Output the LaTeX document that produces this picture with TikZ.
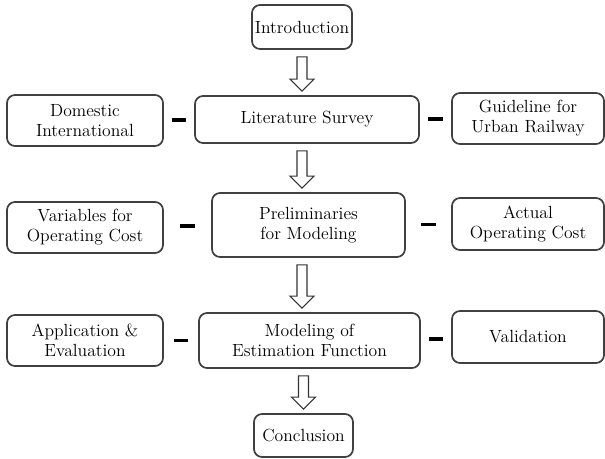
\documentclass[tikz,border=0pt]{standalone}
\usepackage{fontspec}
\usepackage{tikz}
\usetikzlibrary{calc}

\tikzset{
	box/.style={draw=black!75, line width=1.3pt, rounded corners=6pt, align=center, inner sep=2pt, font=\fontsize{13.2}{15}\selectfont},
	sidebox/.style={box, minimum width=117pt, minimum height=38.25pt},
	bar/.style={line width=2.8pt, line cap=butt, to path={($(\tikztostart)!.5!(\tikztotarget)$) ++(-5.6pt,0) -- ++(11.2pt,0)}},
	hollow/.style={draw=black!80, line width=0.9pt, line join=miter, to path={let \p1=(\tikztostart), \p2=(\tikztotarget) in
		(\x1-3.75pt,\y1-5.25pt) -- (\x1-3.75pt,\y2+12pt) -- (\x1-9pt,\y2+12pt) -- (\x1,\y2+3pt)
		-- (\x1+9pt,\y2+12pt) -- (\x1+3.75pt,\y2+12pt) -- (\x1+3.75pt,\y1-5.25pt) -- cycle}}
}

\begin{document}
\begin{tikzpicture}[x=0.75pt,y=-0.75pt]
	\useasboundingbox (0,0) rectangle (605,459);
	
	%MAIN COLUMN
	\node[box, minimum width=75pt, minimum height=33pt] (intro) at (302,27) {Introduction};
	\node[box, minimum width=168pt, minimum height=35.25pt] (lit) at (307,119.5) {Literature Survey};
	\node[box, minimum width=144.75pt, minimum height=48pt] (prelim) at (308.5,225) {Preliminaries\\for Modeling};
	\node[box, minimum width=165.75pt, minimum height=41.25pt] (model) at (309.5,340.5) {Modeling of\\Estimation Function};
	\node[box, minimum width=74.25pt, minimum height=32.25pt] (concl) at (303.5,435.5) {Conclusion};
	
	%LEFT COLUMN
	\node[sidebox] (dom) at (85,120.5) {Domestic\\International};
	\node[sidebox] (var) at (85,227.5) {Variables for\\Operating Cost};
	\node[sidebox] (app) at (85,340.5) {Application \&\\Evaluation};
	
	%RIGHT COLUMN
	\node[sidebox, minimum width=114pt] (guide) at (528,118.5) {Guideline for\\Urban Railway};
	\node[sidebox, minimum width=114pt, minimum height=39pt] (actual) at (528,224) {Actual\\Operating Cost};
	\node[sidebox, minimum width=114pt, minimum height=39pt] (valid) at (528,337) {Validation};
	
	%HOLLOW ARROWS
	\draw[hollow] (intro.south) to (lit.north);
	\draw[hollow] (lit.south -| intro.south) to (prelim.north);
	\draw[hollow] (prelim.south -| intro.south) to (model.north);
	\draw[hollow] (model.south -| concl.north) to (concl.north);
	
	%SHORT BARS
	\draw[bar] (dom.east) to (lit.west);		%row 1
	\draw[bar] (lit.east) to (guide.west);
	\draw[bar] (var.east) to (prelim.west);		%row 2
	\draw[bar] (prelim.east) to (actual.west);
	\draw[bar] (app.east) to (model.west);		%row 3
	\draw[bar] (model.east) to (valid.west);
\end{tikzpicture}
\end{document}
